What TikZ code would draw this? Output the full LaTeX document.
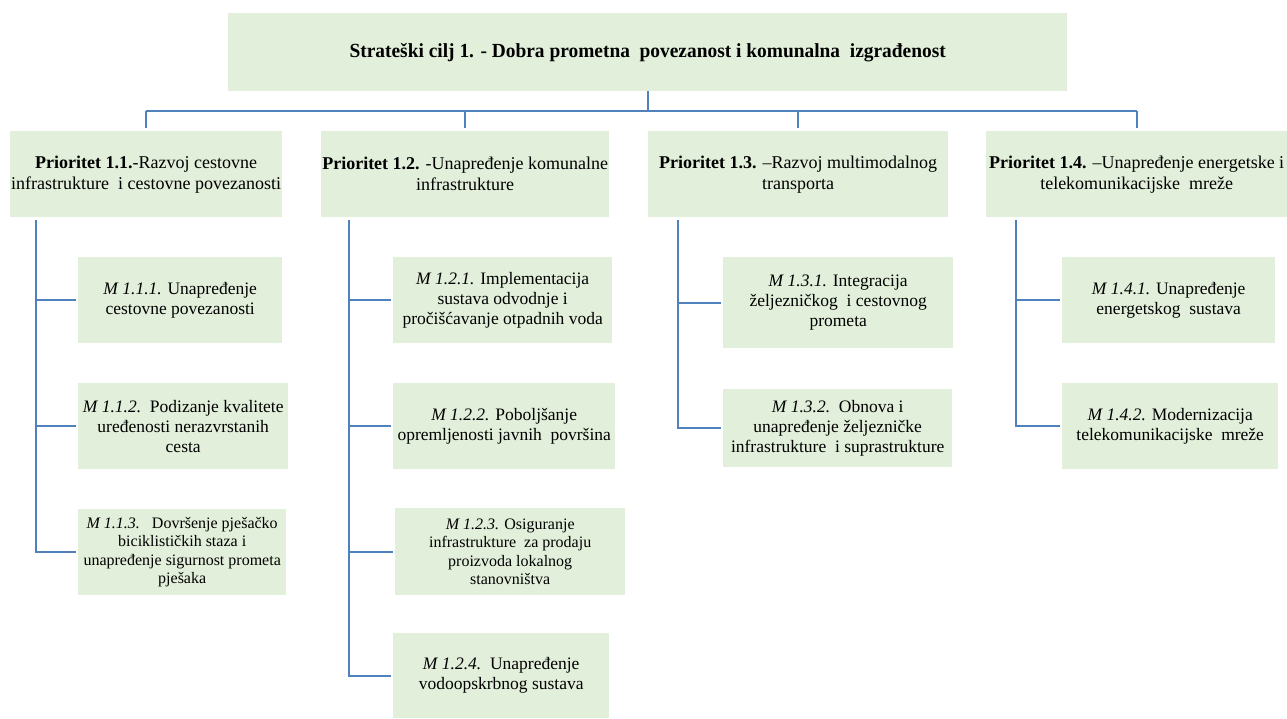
\documentclass[tikz,border=0pt]{standalone}
\usepackage{fontspec}
\setmainfont{Liberation Serif}
\definecolor{boxfill}{RGB}{226,239,218}
\definecolor{linecol}{RGB}{79,129,189}
\tikzset{
  box/.style={fill=boxfill, draw=none, anchor=north west, align=center, inner sep=0pt,
    font=\fontsize{17.5}{20}\selectfont},
  tightbox/.style={box, font=\fontsize{16}{18.5}\selectfont},
  pbox/.style={box, font=\fontsize{18}{21}\selectfont},
  conn/.style={draw=linecol, line width=1.6pt},
}
\begin{document}
\begin{tikzpicture}[x=1pt,y=-1pt]
\useasboundingbox (0,0) rectangle (1287,718);
% top
\node[box, minimum width=839, minimum height=78, font=\fontsize{20}{24}\selectfont\bfseries] (top) at (228,13)
  {\scalebox{0.97}[1]{Strateški cilj 1. - Dobra prometna\ \ povezanost i komunalna\ \ izgrađenost}};
% priorities
\node[pbox, minimum width=272, minimum height=86] (p1) at (10,131)
  {\textbf{Prioritet 1.1.}-Razvoj cestovne\\infrastrukture\ \ i cestovne povezanosti};
\node[pbox, minimum width=288, minimum height=86] (p2) at (321,131)
  {\textbf{Prioritet 1.2.} -Unapređenje komunalne\\infrastrukture};
\node[pbox, minimum width=300, minimum height=86] (p3) at (648,131)
  {\textbf{Prioritet 1.3.} –Razvoj multimodalnog\\transporta};
\node[pbox, minimum width=301, minimum height=86] (p4) at (986,131)
  {\textbf{Prioritet 1.4.} –Unapređenje energetske i\\telekomunikacijske\ \ mreže};
% measures 1.1
\node[box, minimum width=204, minimum height=86] (m111) at (78,257)
  {\textit{M 1.1.1.} Unapređenje\\cestovne povezanosti};
\node[box, minimum width=210, minimum height=86] (m112) at (78,383)
  {\textit{M 1.1.2.}\ \ Podizanje kvalitete\\uređenosti nerazvrstanih\\cesta};
\node[tightbox, minimum width=208, minimum height=86] (m113) at (78,509)
  {\textit{M 1.1.3.}\ \ \ Dovršenje pješačko\\biciklističkih staza i\\unapređenje sigurnost prometa\\pješaka};
% measures 1.2
\node[box, minimum width=219, minimum height=86] (m121) at (393,257)
  {\textit{M 1.2.1.} Implementacija\\sustava odvodnje i\\pročišćavanje otpadnih voda};
\node[box, minimum width=222, minimum height=86] (m122) at (393,383)
  {\textit{M 1.2.2.} Poboljšanje\\opremljenosti javnih\ \ površina};
\node[tightbox, minimum width=230, minimum height=87] (m123) at (395,508)
  {\textit{M 1.2.3.} Osiguranje\\infrastrukture\ \ za prodaju\\proizvoda lokalnog\\stanovništva};
\node[box, minimum width=216, minimum height=85] (m124) at (393,633)
  {\textit{M 1.2.4.}\ \ Unapređenje\\vodoopskrbnog sustava};
% measures 1.3
\node[box, minimum width=230, minimum height=91] (m131) at (723,257)
  {\textit{M 1.3.1.} Integracija\\željezničkog\ \ i cestovnog\\prometa};
\node[box, minimum width=229, minimum height=78] (m132) at (723,389)
  {\textit{M 1.3.2.}\ \ Obnova i\\unapređenje željezničke\\infrastrukture\ \ i suprastrukture};
% measures 1.4
\node[box, minimum width=213, minimum height=86] (m141) at (1062,257)
  {\textit{M 1.4.1.} Unapređenje\\energetskog\ \ sustava};
\node[box, minimum width=216, minimum height=86] (m142) at (1062,383)
  {\textit{M 1.4.2.} Modernizacija\\telekomunikacijske\ \ mreže};
% connectors top
\coordinate (bar) at (648,111);
\draw[conn] (top.south) -- (top.south |- bar);
\draw[conn] (p1.north |- bar) -- (p4.north |- bar);
\foreach \p in {p1,p2,p3,p4}
  \draw[conn] (\p.north |- bar) -- ([yshift=3pt]\p.north);
% trunks
\foreach \m in {m111,m112,m113}
  \draw[conn] ([xshift=26pt,yshift=-3pt]p1.south west) |- ([xshift=-2pt]\m.west);
\foreach \m in {m121,m122,m123,m124}
  \draw[conn] ([xshift=28pt,yshift=-3pt]p2.south west) |- ([xshift=-2pt]\m.west);
\foreach \m in {m131,m132}
  \draw[conn] ([xshift=30pt,yshift=-3pt]p3.south west) |- ([xshift=-2pt]\m.west);
\foreach \m in {m141,m142}
  \draw[conn] ([xshift=30pt,yshift=-3pt]p4.south west) |- ([xshift=-2pt]\m.west);
\end{tikzpicture}
\end{document}
